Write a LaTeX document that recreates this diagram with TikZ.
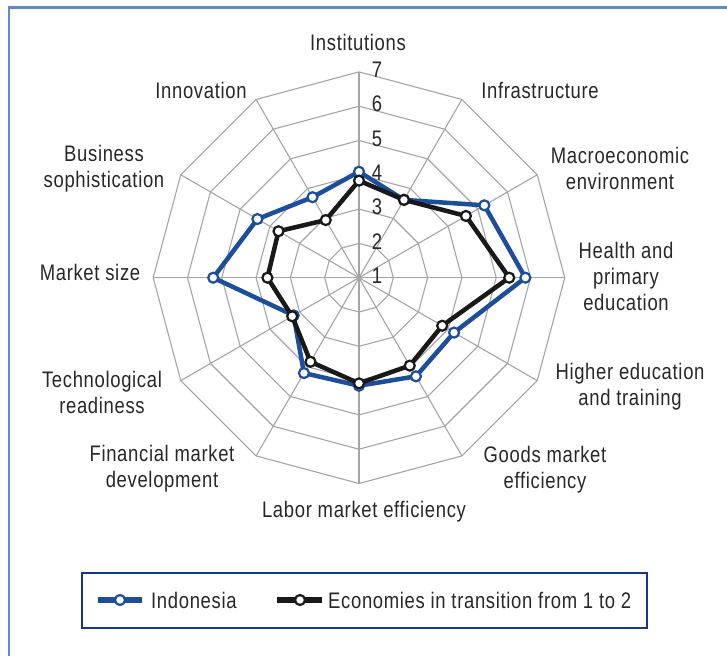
\documentclass[tikz,border=0pt]{standalone}
\usepackage{fontspec}
\setmainfont[FakeStretch=0.82,LetterSpace=3]{Liberation Sans}
\definecolor{frameblue}{RGB}{91,140,200}
\definecolor{gridgray}{RGB}{165,165,165}
\definecolor{indblue}{RGB}{28,78,155}
\definecolor{ecoblack}{RGB}{25,25,25}
\definecolor{txt}{RGB}{40,40,40}
\definecolor{legframe}{RGB}{20,55,140}
\begin{document}
\begin{tikzpicture}[x=1pt,y=-1pt,
  frameline/.style={draw=frameblue,line width=2.6pt},
  gridline/.style={draw=gridgray,line width=1.1pt},
  indline/.style={draw=indblue,line width=4.5pt,line join=round},
  ecoline/.style={draw=ecoblack,line width=4.5pt,line join=round},
  indmark/.style={circle,draw=indblue,fill=white,line width=2.2pt,minimum size=10pt,inner sep=0pt},
  ecomark/.style={circle,draw=ecoblack,fill=white,line width=2.2pt,minimum size=10pt,inner sep=0pt},
  lab/.style={font=\fontsize{22.5}{26}\selectfont,text=txt,align=center,inner sep=0pt},
  num/.style={font=\fontsize{22.5}{26}\selectfont,text=txt,inner sep=0pt},
  legbox/.style={draw=legframe,line width=2pt}]
\useasboundingbox (0,0) rectangle (727,655);
\fill[white] (0,0) rectangle (727,655);
\draw[frameline] (9,656) -- (9,7.5) -- (728,7.5);
\def\cx{359}\def\cy{277.7}\def\u{34.3}
\coordinate (c) at (\cx,\cy);
% grid rings
\foreach \k in {1,...,6}{
  \draw[gridline] ({\cx},{\cy-\k*\u}) \foreach \a in {30,60,...,330}{ -- ({\cx+\k*\u*sin(\a)},{\cy-\k*\u*cos(\a)}) } -- cycle;
}
% spokes
\foreach \a [count=\j] in {0,30,...,330}{
  \coordinate (s\j) at ({\cx+6*\u*sin(\a)},{\cy-6*\u*cos(\a)});
  \draw[gridline] (c) -- (s\j);
}
% scale numbers
\foreach \k in {1,...,7}{
  \node[num] (n\k) at (377,{\cy-(\k-1)*\u-2}) {\k};
}
% data
\foreach \v [count=\i from 0] in {4.09,3.62,5.22,5.85,4.20,4.32,4.15,4.21,3.20,5.25,4.42,3.71}{
  \coordinate (ind\i) at ({\cx+(\v-1)*\u*sin(30*\i)},{\cy-(\v-1)*\u*cos(30*\i)});
}
\foreach \v [count=\i from 0] in {3.83,3.62,4.60,5.38,3.80,3.96,4.08,3.83,3.25,3.67,3.71,2.94}{
  \coordinate (eco\i) at ({\cx+(\v-1)*\u*sin(30*\i)},{\cy-(\v-1)*\u*cos(30*\i)});
}
\draw[indline] (ind0) \foreach \i in {1,...,11}{ -- (ind\i) } -- cycle;
\foreach \i in {0,...,11}{ \node[indmark] (indm\i) at (ind\i) {}; }
\draw[ecoline] (eco0) \foreach \i in {1,...,11}{ -- (eco\i) } -- cycle;
\foreach \i in {0,...,11}{ \node[ecomark] (ecom\i) at (eco\i) {}; }
% axis labels
\node[lab] (l0) at (358,42) {Institutions};
\node[lab] (l1) at (540,90) {Infrastructure};
\node[lab] (l2) at (620,168) {Macroeconomic\\environment};
\node[lab] (l3) at (626,276) {Health and\\primary\\education};
\node[lab] (l4) at (630,387) {Higher education\\and training};
\node[lab] (l5) at (545,470) {Goods market\\efficiency};
\node[lab] (l6) at (364,512) {Labor market efficiency};
\node[lab] (l7) at (162,469) {Financial market\\development};
\node[lab] (l8) at (102,392) {Technological\\readiness};
\node[lab] (l9) at (90,272) {Market size};
\node[lab] (l10) at (104,169) {Business\\sophistication};
\node[lab] (l11) at (201,90) {Innovation};
% legend
\draw[legbox] (82,573) rectangle (647,628);
\coordinate (la) at (98,600); \coordinate (lb) at (142,600);
\draw[indline,line width=6pt,line cap=butt] (la) -- (lb);
\node[indmark] (lm1) at (120,600) {};
\node[lab,anchor=west] (lt1) at (151,600) {Indonesia};
\coordinate (lc) at (277,600); \coordinate (ld) at (322,600);
\draw[ecoline,line width=6pt,line cap=butt] (lc) -- (ld);
\node[ecomark] (lm2) at (300,600) {};
\node[lab,anchor=west] (lt2) at (328,600) {Economies in transition from 1 to 2};
\end{tikzpicture}
\end{document}
